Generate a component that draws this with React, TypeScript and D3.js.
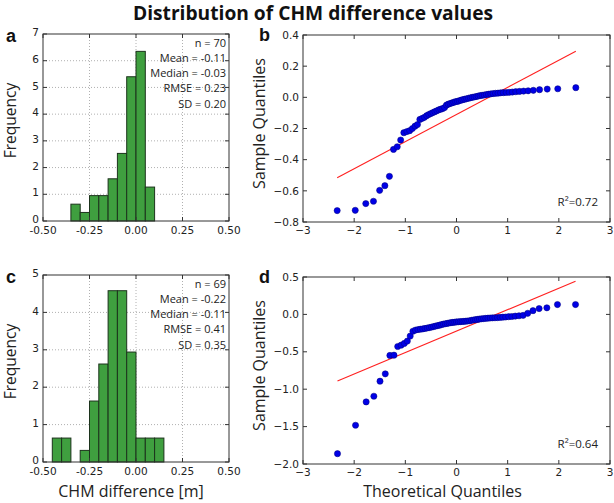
import React from 'react';
import * as d3 from 'd3';

// ---- histogram data (density, bin width 0.05) ----
const histAEdges = [-0.35, -0.3, -0.25, -0.2, -0.15, -0.1, -0.05, 0, 0.05, 0.1];
const histAFreq = [0.63, 0.32, 0.95, 0.95, 1.58, 2.53, 5.4, 6.35, 1.27];
const histCEdges = [-0.45, -0.4, -0.35, -0.3, -0.25, -0.2, -0.15, -0.1, -0.05, 0, 0.05, 0.1, 0.15];
const histCFreq = [0.64, 0.64, 0, 0.31, 1.63, 2.62, 4.58, 4.58, 2.94, 0.64, 0.64, 0.64];

const histXTicks = [-0.5, -0.25, 0, 0.25, 0.5];
const histXTickLabels = ['-0.50', '-0.25', '0.00', '0.25', '0.50'];
const histAYTicks = [0, 1, 2, 3, 4, 5, 6, 7];
const histCYTicks = [0, 1, 2, 3, 4, 5];

const statsA = ['n = 70', 'Mean = -0.11', 'Median = -0.03', 'RMSE = 0.23', 'SD = 0.20'];
const statsC = ['n = 69', 'Mean = -0.22', 'Median = -0.11', 'RMSE = 0.41', 'SD = 0.35'];

// ---- Q-Q plot data (theoretical quantile, sample quantile) ----
const qqBTheo = [
  -2.332, -1.979, -1.773, -1.623, -1.502, -1.4, -1.311, -1.231, -1.158, -1.091,
  -1.029, -0.97, -0.915, -0.862, -0.811, -0.763, -0.716, -0.67, -0.626, -0.583,
  -0.542, -0.501, -0.461, -0.422, -0.383, -0.345, -0.308, -0.271, -0.234, -0.197,
  -0.161, -0.125, -0.089, -0.054, -0.018, 0.018, 0.054, 0.089, 0.125, 0.161,
  0.197, 0.234, 0.271, 0.308, 0.345, 0.383, 0.422, 0.461, 0.501, 0.542,
  0.583, 0.626, 0.67, 0.716, 0.763, 0.811, 0.862, 0.915, 0.97, 1.029,
  1.091, 1.158, 1.231, 1.311, 1.4, 1.502, 1.623, 1.773, 1.979, 2.332,
];
const qqBSample = [
  -0.727, -0.725, -0.682, -0.667, -0.597, -0.567, -0.507, -0.334, -0.317, -0.274,
  -0.227, -0.22, -0.214, -0.2, -0.185, -0.175, -0.142, -0.135, -0.128, -0.118,
  -0.11, -0.104, -0.098, -0.092, -0.086, -0.08, -0.076, -0.072, -0.066, -0.05,
  -0.044, -0.04, -0.036, -0.032, -0.028, -0.026, -0.022, -0.018, -0.015, -0.012,
  -0.009, -0.006, -0.003, 0.0, 0.002, 0.005, 0.008, 0.011, 0.013, 0.015,
  0.018, 0.02, 0.022, 0.024, 0.026, 0.027, 0.029, 0.03, 0.031, 0.032,
  0.034, 0.036, 0.038, 0.04, 0.042, 0.045, 0.049, 0.053, 0.055, 0.062,
];
const qqDTheo = [
  -2.326, -1.973, -1.766, -1.615, -1.495, -1.392, -1.302, -1.222, -1.149, -1.082,
  -1.02, -0.961, -0.905, -0.852, -0.801, -0.752, -0.705, -0.659, -0.615, -0.572,
  -0.53, -0.488, -0.448, -0.409, -0.369, -0.331, -0.293, -0.256, -0.219, -0.182,
  -0.145, -0.109, -0.072, -0.036, 0.0, 0.036, 0.072, 0.109, 0.145, 0.182,
  0.219, 0.256, 0.293, 0.331, 0.369, 0.409, 0.448, 0.488, 0.53, 0.572,
  0.615, 0.659, 0.705, 0.752, 0.801, 0.852, 0.905, 0.961, 1.02, 1.082,
  1.149, 1.222, 1.302, 1.392, 1.495, 1.615, 1.766, 1.973, 2.326,
];
const qqDSample = [
  -1.862, -1.482, -1.17, -1.094, -0.893, -0.795, -0.549, -0.545, -0.429, -0.411,
  -0.388, -0.357, -0.29, -0.225, -0.21, -0.203, -0.198, -0.194, -0.188, -0.182,
  -0.176, -0.17, -0.163, -0.156, -0.15, -0.144, -0.136, -0.13, -0.125, -0.12,
  -0.115, -0.111, -0.107, -0.104, -0.101, -0.099, -0.097, -0.095, -0.093, -0.091,
  -0.088, -0.085, -0.079, -0.075, -0.071, -0.067, -0.062, -0.059, -0.056, -0.053,
  -0.05, -0.048, -0.046, -0.045, -0.043, -0.04, -0.037, -0.035, -0.031, -0.028,
  -0.023, -0.018, -0.013, 0.015, 0.05, 0.078, 0.088, 0.132, 0.132,
];

// fitted reference lines
const qqBLine = { slope: 0.174, intercept: -0.11 };
const qqDLine = { slope: 0.287, intercept: -0.224 };

const qqXTicks = [-3, -2, -1, 0, 1, 2, 3];
const qqBYTicks = [-0.8, -0.6, -0.4, -0.2, 0, 0.2, 0.4];
const qqDYTicks = [-2, -1.5, -1, -0.5, 0, 0.5];

const TICK_FONT = '"DejaVu Sans", sans-serif';
const LABEL_FONT = '"Open Sans", sans-serif';
const FRAME = '#333';
const TEXT = '#222';

type Box = { x0: number; x1: number; y0: number; y1: number };

const minus = (s: string) => s.replace('-', '\u2212');

function Frame({ box, xs, ys }: { box: Box; xs: number[]; ys: number[] }) {
  const L = 4;
  return (
    <g stroke={FRAME} strokeWidth={1}>
      {xs.map((x, i) => (
        <g key={'x' + i}>
          <line x1={x} x2={x} y1={box.y1} y2={box.y1 - L} />
          <line x1={x} x2={x} y1={box.y0} y2={box.y0 + L} />
        </g>
      ))}
      {ys.map((y, i) => (
        <g key={'y' + i}>
          <line x1={box.x0} x2={box.x0 + L} y1={y} y2={y} />
          <line x1={box.x1} x2={box.x1 - L} y1={y} y2={y} />
        </g>
      ))}
      <rect x={box.x0} y={box.y0} width={box.x1 - box.x0} height={box.y1 - box.y0} fill="none" />
    </g>
  );
}

function HistPanel({ box, edges, freq, yTicks, stats, letter, showXLabel }: {
  box: Box; edges: number[]; freq: number[]; yTicks: number[]; stats: string[]; letter: string; showXLabel: boolean;
}) {
  const x = d3.scaleLinear().domain([-0.5, 0.5]).range([box.x0, box.x1]);
  const y = d3.scaleLinear().domain([0, yTicks[yTicks.length - 1]]).range([box.y1, box.y0]);
  const midY = (box.y0 + box.y1) / 2;
  return (
    <g>
      {/* grid */}
      <g stroke="#b0b0b0" strokeDasharray="1,2" strokeWidth={1}>
        {yTicks.slice(1, -1).map((t) => (
          <line key={'gy' + t} x1={box.x0} x2={box.x1} y1={y(t)} y2={y(t)} />
        ))}
        {histXTicks.slice(1, -1).map((t) => (
          <line key={'gx' + t} x1={x(t)} x2={x(t)} y1={box.y0} y2={box.y1} />
        ))}
      </g>
      {/* bars */}
      {freq.map((f, i) =>
        f > 0 ? (
          <rect
            key={i}
            x={x(edges[i])}
            y={y(f)}
            width={x(edges[i + 1]) - x(edges[i])}
            height={y(0) - y(f)}
            fill="#3f9f3f"
            stroke="#1c331c"
            strokeWidth={1}
          />
        ) : null
      )}
      <Frame box={box} xs={histXTicks.map((t) => x(t))} ys={yTicks.map((t) => y(t))} />
      {/* tick labels */}
      <g fontFamily={TICK_FONT} fontSize={10.5} fill={TEXT}>
        {histXTicks.map((t, i) => (
          <text key={'xl' + i} x={x(t)} y={box.y1 + 12.5} textAnchor="middle">{histXTickLabels[i]}</text>
        ))}
        {yTicks.map((t) => (
          <text key={'yl' + t} x={box.x0 - 4} y={y(t) - 1.5} dy="0.35em" textAnchor="end">{t}</text>
        ))}
      </g>
      {/* stats */}
      <g fontFamily={LABEL_FONT} fontSize={11} fill={TEXT} textAnchor="end">
        {stats.map((s, i) => (
          <text key={s} x={box.x1 - 3} y={box.y0 + 12.5 + i * 15.3}>{s}</text>
        ))}
      </g>
      <text
        transform={`translate(${box.x0 - 27},${midY - 7}) rotate(-90)`}
        textAnchor="middle"
        fontFamily={LABEL_FONT}
        fontSize={15.5}
        fill={TEXT}
      >
        Frequency
      </text>
      {showXLabel && (
        <text x={(box.x0 + box.x1) / 2 - 5} y={497} textAnchor="middle" fontFamily={LABEL_FONT} fontSize={16} fill={TEXT}>
          CHM difference [m]
        </text>
      )}
      <text x={box.x0 - 37} y={box.y0 + 8} fontFamily='"Liberation Sans", Arial, sans-serif' fontWeight="bold" fontSize={18} fill="#111">
        {letter}
      </text>
    </g>
  );
}

function QQPanel({ box, theo, sample, fit, yTicks, r2, letter, showXLabel }: {
  box: Box; theo: number[]; sample: number[]; fit: { slope: number; intercept: number };
  yTicks: number[]; r2: string; letter: string; showXLabel: boolean;
}) {
  const x = d3.scaleLinear().domain([-3, 3]).range([box.x0, box.x1]);
  const y = d3.scaleLinear().domain([yTicks[0], yTicks[yTicks.length - 1]]).range([box.y1, box.y0]);
  const [lo, hi] = d3.extent(theo) as [number, number];
  const line = d3.line<number>().x((t) => x(t)).y((t) => y(fit.intercept + fit.slope * t));
  const midY = (box.y0 + box.y1) / 2;
  return (
    <g>
      <path d={line([lo, hi]) || ''} stroke="#ff2020" strokeWidth={1.1} fill="none" />
      <g fill="#0000e6" stroke="#00007a" strokeWidth={0.5}>
        {theo.map((t, i) => (
          <circle key={i} cx={x(t)} cy={y(sample[i])} r={3.1} />
        ))}
      </g>
      <Frame box={box} xs={qqXTicks.map((t) => x(t))} ys={yTicks.map((t) => y(t))} />
      <g fontFamily={TICK_FONT} fontSize={10.5} fill={TEXT}>
        {qqXTicks.map((t) => (
          <text key={'xl' + t} x={x(t)} y={box.y1 + 12} textAnchor="middle">{minus(String(t))}</text>
        ))}
        {yTicks.map((t) => (
          <text key={'yl' + t} x={box.x0 - 4} y={y(t)} dy="0.35em" textAnchor="end">{minus(d3.format('.1f')(t))}</text>
        ))}
      </g>
      <text x={box.x1 - 12} y={box.y1 - 16} textAnchor="end" fontFamily={LABEL_FONT} fontSize={11.5} fill={TEXT}>
        R²={r2}
      </text>
      <text
        transform={`translate(${box.x0 - 38},${midY - 5}) rotate(-90)`}
        textAnchor="middle"
        fontFamily={LABEL_FONT}
        fontSize={16}
        fill={TEXT}
      >
        Sample Quantiles
      </text>
      {showXLabel && (
        <text x={(box.x0 + box.x1) / 2 - 14} y={497} textAnchor="middle" fontFamily={LABEL_FONT} fontSize={16} fill={TEXT}>
          Theoretical Quantiles
        </text>
      )}
      <text x={box.x0 - 44} y={box.y0 + 6} fontFamily='"Liberation Sans", Arial, sans-serif' fontWeight="bold" fontSize={18} fill="#111">
        {letter}
      </text>
    </g>
  );
}

export default function App() {
  const W = 614;
  const H = 503;
  return (
    <div style={{ position: 'absolute', left: 0, top: 0 }}>
      <svg width={W} height={H} style={{ display: 'block', background: '#fff' }}>
        <text x={313} y={20} textAnchor="middle" fontFamily={LABEL_FONT} fontWeight="bold" fontSize={19.2} fill="#111">
          Distribution of CHM difference values
        </text>
        <HistPanel
          box={{ x0: 43, x1: 229, y0: 34, y1: 221 }}
          edges={histAEdges}
          freq={histAFreq}
          yTicks={histAYTicks}
          stats={statsA}
          letter="a"
          showXLabel={false}
        />
        <QQPanel
          box={{ x0: 303, x1: 610, y0: 35, y1: 222 }}
          theo={qqBTheo}
          sample={qqBSample}
          fit={qqBLine}
          yTicks={qqBYTicks}
          r2="0.72"
          letter="b"
          showXLabel={false}
        />
        <HistPanel
          box={{ x0: 43, x1: 229, y0: 275, y1: 462 }}
          edges={histCEdges}
          freq={histCFreq}
          yTicks={histCYTicks}
          stats={statsC}
          letter="c"
          showXLabel={true}
        />
        <QQPanel
          box={{ x0: 303, x1: 610, y0: 277, y1: 464 }}
          theo={qqDTheo}
          sample={qqDSample}
          fit={qqDLine}
          yTicks={qqDYTicks}
          r2="0.64"
          letter="d"
          showXLabel={true}
        />
      </svg>
    </div>
  );
}
